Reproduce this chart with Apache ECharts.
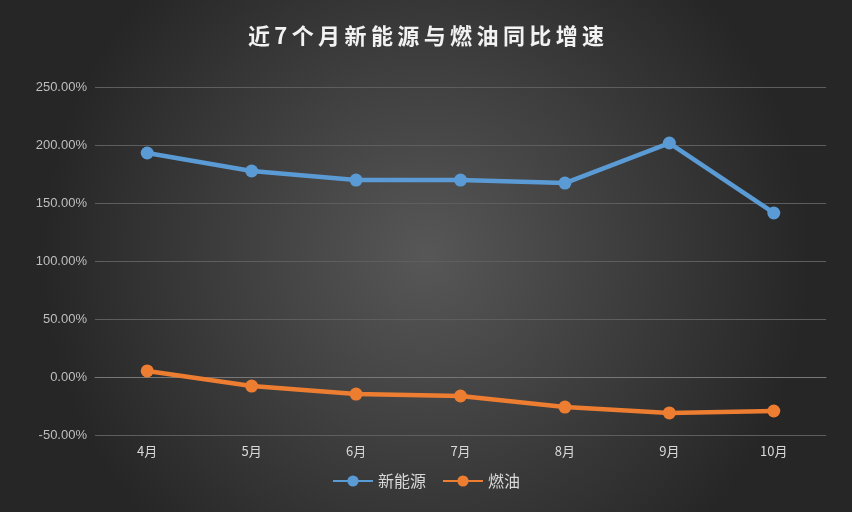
<!DOCTYPE html>
<html><head><meta charset="utf-8">
<script src="https://cdn.jsdelivr.net/npm/echarts@6/dist/echarts.min.js"></script>
<style>html,body{margin:0;padding:0;}#main{width:852px;height:512px;}</style>
</head><body><div id="main"></div>
<script>
var months = ['4月','5月','6月','7月','8月','9月','10月'];
var newEnergy = [193.1, 177.6, 169.8, 169.8, 167.2, 201.7, 141.4];
var fuel = [5.2, -7.8, -14.7, -16.4, -25.9, -31.0, -29.3];

var myChart = echarts.init(document.getElementById('main'));
option = {
    backgroundColor: {
        type: 'radial', x: 0.5, y: 0.5, r: 0.75,
        colorStops: [{offset: 0, color: '#575757'}, {offset: 1, color: '#262626'}]
    },
    title: {
        text: '近 7 个 月 新 能 源 与 燃 油 同 比 增 速'.replace(/ /g, '\u2009'),
        left: 'center', top: 20,
        textStyle: {color: '#f2f2f2', fontSize: 22, fontWeight: 'bold', fontFamily: 'Noto Sans CJK SC'}
    },
    legend: {
        bottom: 18, itemWidth: 40, itemHeight: 14, itemGap: 16,
        textStyle: {color: '#d9d9d9', fontSize: 16, fontFamily: 'Noto Sans CJK SC'},
        data: ['新能源', '燃油']
    },
    grid: {left: 95, right: 26, top: 87, bottom: 77},
    xAxis: {
        type: 'category', data: months,
        axisLine: {lineStyle: {color: '#777'}},
        axisTick: {show: false},
        axisLabel: {color: '#d9d9d9', fontSize: 13, fontFamily: 'Noto Sans CJK SC', margin: 10}
    },
    yAxis: {
        type: 'value', min: -50, max: 250, interval: 50,
        axisLine: {show: false}, axisTick: {show: false},
        splitLine: {lineStyle: {color: '#5e5e5e'}},
        axisLabel: {color: '#bfbfbf', fontSize: 13, formatter: function (v) { return v.toFixed(2) + '%'; }}
    },
    series: [
        {name: '新能源', type: 'line', data: newEnergy, symbol: 'circle', symbolSize: 13,
         lineStyle: {width: 4.5, color: '#5b9bd5'}, itemStyle: {color: '#5b9bd5'}},
        {name: '燃油', type: 'line', data: fuel, symbol: 'circle', symbolSize: 13,
         lineStyle: {width: 4.5, color: '#ed7d31'}, itemStyle: {color: '#ed7d31'}}
    ]
};
myChart.setOption(option, true);
</script></body></html>
